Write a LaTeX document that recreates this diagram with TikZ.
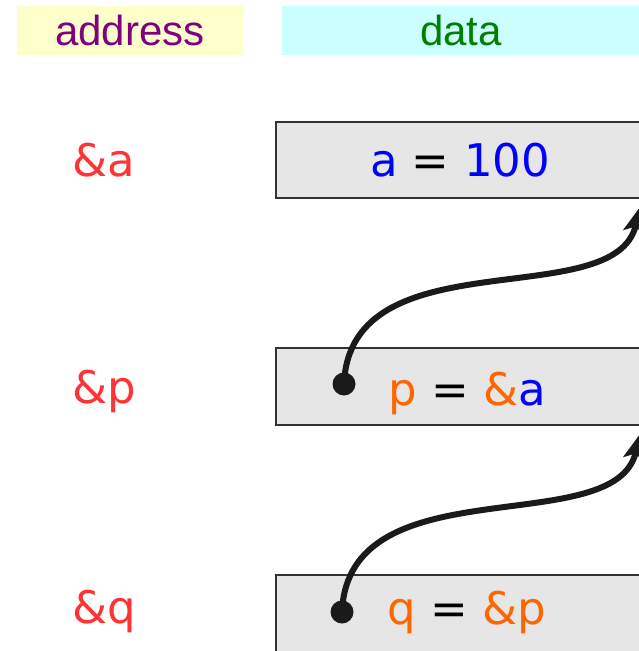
\documentclass[tikz,border=0pt]{standalone}
\usepackage{fontspec}
\setmainfont{Liberation Sans}
\newfontfamily\celda{DejaVu Sans}
\usepackage{tikz}
\usetikzlibrary{arrows.meta}

\definecolor{amarillo}{HTML}{FFFFCC}
\definecolor{celeste}{HTML}{CCFFFF}
\definecolor{morado}{HTML}{800080}
\definecolor{verde}{HTML}{008000}
\definecolor{rojo}{HTML}{FF3333}
\definecolor{naranja}{HTML}{FF6600}
\definecolor{azul}{HTML}{0000FF}
\definecolor{gris}{HTML}{E6E6E6}
\definecolor{borde}{HTML}{333333}
\definecolor{negro}{HTML}{1A1A1A}

\begin{document}
\begin{tikzpicture}[x=1pt, y=1pt,
    titulo/.style={minimum height=49pt, inner sep=0pt, font=\fontsize{42}{50}\selectfont},
    caja/.style={draw=borde, line width=1.3pt, fill=gris},
    texto/.style={inner sep=0pt, text height=33pt, text depth=0pt, font=\celda\fontsize{45}{54}\selectfont},
    punto/.style={circle, fill=negro, inner sep=0pt, minimum size=23pt},
    flecha/.style={line width=6pt, draw=negro, -{Stealth[length=26pt, width=22pt, inset=6pt]}}]
    \useasboundingbox (0,0) rectangle (639,-651);

    % Cabeceras
    \node[titulo, fill=amarillo, minimum width=226pt, text=morado] (haddr) at (130,-30.5) {address};
    \node[titulo, fill=celeste, minimum width=358pt, text=verde] (hdata) at (461,-30.5) {data};

    % Celdas de memoria
    \draw[caja] (276,-122) rectangle (700,-198);
    \draw[caja] (276,-348) rectangle (700,-425);
    \draw[caja] (276,-575) rectangle (700,-660);

    % Direcciones
    \node[texto, text=rojo] (adra) at (104,-159.5) {\&a};
    \node[texto, text=rojo] (adrp) at (104,-387) {\&p};
    \node[texto, text=rojo] (adrq) at (104,-607) {\&q};

    % Contenidos
    \node[texto] (vala) at (460,-159.5) {\textcolor{azul}{a} = \textcolor{azul}{100}};
    \node[texto] (valp) at (467,-389) {\textcolor{naranja}{p} = \textcolor{naranja}{\&}\textcolor{azul}{a}};
    \node[texto] (valq) at (467,-607.5) {\textcolor{naranja}{q} = \textcolor{naranja}{\&p}};

    % Punteros
    \node[punto] (dotp) at (344,-384) {};
    \node[punto] (dotq) at (342,-612) {};
    \coordinate (tipa) at (640,-207);
    \coordinate (tipp) at (640,-434);
    \draw[flecha] (dotp.center) .. controls +(6,149) and +(-25,-108) .. (tipa);
    \draw[flecha] (dotq.center) .. controls +(6,149) and +(-25,-108) .. (tipp);
\end{tikzpicture}
\end{document}
